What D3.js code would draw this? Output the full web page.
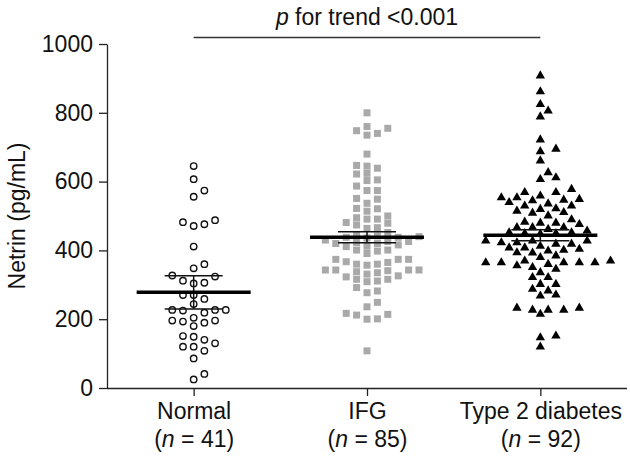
<!DOCTYPE html>
<html><head><meta charset="utf-8">
<script src="https://cdn.jsdelivr.net/npm/d3@7"></script>
<style>
html,body{margin:0;padding:0;background:#fff;}
svg{display:block;font-family:"Liberation Sans",Arial,Helvetica,sans-serif;}
</style></head>
<body>
<svg id="chart" width="630" height="464"></svg>
<script>
// ---- data ----
const categories = ["Normal", "IFG", "Type 2 diabetes"];
const groupN = [41, 85, 92];
const yTicks = [0, 200, 400, 600, 800, 1000];
const normalValues = [645, 607, 574, 556, 488, 482, 476, 471, 411, 360, 348, 327, 324, 312, 306, 304,
  270, 270, 259, 244, 227, 227, 227, 225, 219, 204, 196, 196, 193, 190, 180, 151, 149, 140, 130, 120,
  120, 108, 86, 41, 25];
const ifgValues = [800, 760, 755, 748, 740, 735, 680, 647, 645, 639, 624, 622, 605, 603, 587, 574, 574,
  551, 549, 537, 522, 521, 514, 500, 495, 491, 491, 481, 479, 474, 466, 464, 452,
  440, 438, 438, 442, 445, 436, 430,
  416, 412, 423, 420, 426, 426, 411, 420,
  401, 391, 398, 401,
  374, 365, 360, 374, 360, 367, 374, 357,
  341, 335, 343, 343, 343, 343, 326, 331, 338,
  309, 316, 311, 316, 323,
  282, 277, 292, 249, 236, 214, 201, 200, 212, 217, 108];
const t2dValues = [910, 864, 827, 808, 791, 724, 697, 690, 663, 629, 614, 609, 580,
  571, 561, 556, 556, 571, 551, 549,
  547, 532, 522, 524, 532, 542, 517,
  513, 503, 511,
  482, 478, 482, 485,
  464, 469, 469,
  454, 450, 452, 452, 454, 459, 469,
  492, 538,
  430, 425, 421, 421, 425, 430, 430,
  406, 401, 396, 403, 410, 410,
  387, 382,
  372, 367, 362, 367, 367, 367, 372, 367,
  358, 348, 353,
  338, 324, 324,
  304, 304, 285, 290, 270, 273,
  235, 229, 229, 217, 229, 235,
  154, 149, 122, 415, 395];
const groupMeans = [278, 438, 444];
const groupErrors = [48, 16, 16];
const trendLabel = "for trend <0.001";

// ---- layout ----
const svg = d3.select("#chart");
const mLeft = 107, mRight = 627, mTop = 44, mBottom = 388;
const font = 23;

const x = d3.scalePoint().domain(categories).range([mLeft, mRight]).padding(0.5);
const y = d3.scaleLinear().domain([0, 1000]).range([mBottom, mTop]);

// y axis
const yAxis = svg.append("g").attr("transform", `translate(${mLeft},0)`)
  .call(d3.axisLeft(y).tickValues(yTicks).tickFormat(d3.format("d"))
    .tickSize(8).tickPadding(6).tickSizeOuter(0));
yAxis.selectAll("path,line").attr("stroke", "#222").attr("stroke-width", 1.3);
yAxis.selectAll("text").attr("font-size", font).attr("fill", "#111")
  .attr("font-family", "Liberation Sans, Arial, sans-serif");

// x axis
const xAxis = svg.append("g").attr("transform", `translate(0,${mBottom})`)
  .call(d3.axisBottom(x).tickSize(8).tickSizeOuter(0).tickFormat(""));
xAxis.select(".domain").attr("d", `M${mLeft},0.5H${mRight}`);
xAxis.selectAll("path,line").attr("stroke", "#222").attr("stroke-width", 1.3);
xAxis.selectAll(".tick").each(function(d, i) {
  const t = d3.select(this).append("text").attr("fill", "#111").attr("font-size", font)
    .attr("text-anchor", "middle").attr("font-family", "Liberation Sans, Arial, sans-serif");
  t.append("tspan").attr("x", 0).attr("y", 31).text(d);
  const t2 = d3.select(this).append("text").attr("fill", "#111").attr("font-size", font)
    .attr("text-anchor", "middle").attr("font-family", "Liberation Sans, Arial, sans-serif")
    .attr("x", 0).attr("y", 59);
  t2.append("tspan").text("(");
  t2.append("tspan").attr("font-style", "italic").text("n");
  t2.append("tspan").text(" = " + groupN[i] + ")");
});

// y label
svg.append("text")
  .attr("transform", `translate(25,${(mTop + mBottom) / 2}) rotate(-90)`)
  .attr("text-anchor", "middle").attr("font-size", font).attr("fill", "#111")
  .text("Netrin (pg/mL)");

// trend annotation
svg.append("line")
  .attr("x1", x(categories[0])).attr("x2", x(categories[2]))
  .attr("y1", 37.5).attr("y2", 37.5)
  .attr("stroke", "#333").attr("stroke-width", 1.3);
const tt = svg.append("text").attr("x", (x(categories[0]) + x(categories[2])) / 2).attr("y", 25)
  .attr("text-anchor", "middle").attr("font-size", font).attr("fill", "#111");
tt.append("tspan").attr("font-style", "italic").text("p");
tt.append("tspan").text(" " + trendLabel);

// swarm layout
function swarm(values, cx, step, a, b) {
  const pts = values.map(v => ({ v, py: y(v) })).sort((p, q) => p.v - q.v);
  const placed = [];
  pts.forEach(p => {
    for (let j = 0; j < 60; j++) {
      const k = j === 0 ? 0 : (j % 2 === 1 ? (j + 1) / 2 : -j / 2);
      const dx = k * step;
      const ok = placed.every(q => ((dx - q.dx) / a) ** 2 + ((p.py - q.py) / b) ** 2 >= 0.999);
      if (ok) { p.dx = dx; break; }
    }
    placed.push(p);
  });
  return pts.map(p => ({ v: p.v, px: cx + p.dx, py: p.py }));
}

// Normal: open circles
const nPts = swarm(normalValues, x(categories[0]), 10.7, 10.7, 8);
svg.append("g").selectAll("circle").data(nPts).join("circle")
  .attr("cx", d => d.px).attr("cy", d => d.py).attr("r", 3.2)
  .attr("fill", "#fff").attr("stroke", "#111").attr("stroke-width", 1.4);

// IFG: grey squares
const iPts = swarm(ifgValues, x(categories[1]), 10.4, 10.4, 7.2);
const sq = 7;
svg.append("g").selectAll("rect").data(iPts).join("rect")
  .attr("x", d => d.px - sq / 2).attr("y", d => d.py - sq / 2)
  .attr("width", sq).attr("height", sq).attr("fill", "#a9a9a9");

// T2D: black triangles
const tPts = swarm(t2dValues, x(categories[2]), 7.8, 8.5, 9);
const tri = d3.symbol().type(d3.symbolTriangle).size(38);
svg.append("g").selectAll("path").data(tPts).join("path")
  .attr("transform", d => `translate(${d.px},${d.py + 0.8})`)
  .attr("d", tri).attr("fill", "#000");

// mean and error bars
const eb = svg.append("g");
categories.forEach((c, i) => {
  const cx = x(c);
  const m = groupMeans[i], e = groupErrors[i];
  eb.append("line").attr("x1", cx).attr("x2", cx).attr("y1", y(m - e)).attr("y2", y(m + e))
    .attr("stroke", "#111").attr("stroke-width", 1.5);
  [m - e, m + e].forEach(v => eb.append("line")
    .attr("x1", cx - 29).attr("x2", cx + 29).attr("y1", y(v)).attr("y2", y(v))
    .attr("stroke", "#111").attr("stroke-width", 1.5));
  eb.append("line").attr("x1", cx - 57).attr("x2", cx + 57).attr("y1", y(m)).attr("y2", y(m))
    .attr("stroke", "#000").attr("stroke-width", 3.5);
});
</script>
</body></html>
